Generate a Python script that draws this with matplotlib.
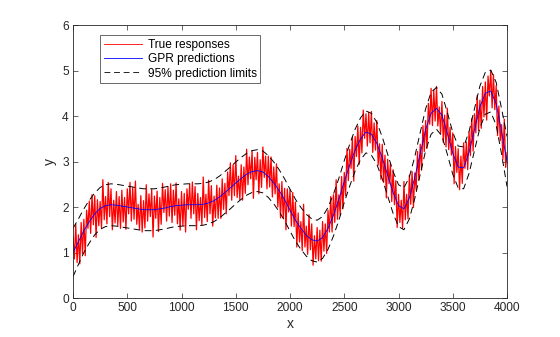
import numpy as np
import matplotlib
matplotlib.use("Agg")
import matplotlib.pyplot as plt

plt.rcParams['font.family'] = ['Liberation Sans', 'DejaVu Sans']

# GPR predicted mean, read every 50 units of x
x_pred = list(range(0, 4001, 50))
y_pred = [
    1.00, 1.24, 1.48, 1.68, 1.85, 1.97, 2.03, 2.05, 2.04, 2.02,
    2.00, 1.98, 1.96, 1.94, 1.94, 1.94, 1.96, 1.98, 2.01, 2.03,
    2.04, 2.05, 2.05, 2.05, 2.06, 2.09, 2.14, 2.22, 2.32, 2.42,
    2.53, 2.63, 2.72, 2.78, 2.80, 2.77, 2.67, 2.53, 2.36, 2.16,
    1.93, 1.71, 1.53, 1.38, 1.28, 1.25, 1.33, 1.53, 1.82, 2.17,
    2.56, 2.92, 3.25, 3.50, 3.65, 3.60, 3.40, 3.08, 2.70, 2.32,
    2.03, 1.96, 2.20, 2.65, 3.18, 3.70, 4.06, 4.17, 4.02, 3.62,
    3.18, 2.88, 2.86, 3.20, 3.70, 4.20, 4.50, 4.55, 4.27, 3.66,
    3.00,
]
# half width of the 95% prediction interval at the same x
ci_half = [
    0.53, 0.50, 0.48, 0.47, 0.46, 0.46, 0.46, 0.46, 0.46, 0.46,
    0.46, 0.46, 0.46, 0.46, 0.46, 0.46, 0.46, 0.46, 0.46, 0.46,
    0.46, 0.46, 0.46, 0.46, 0.46, 0.46, 0.46, 0.46, 0.46, 0.46,
    0.46, 0.46, 0.46, 0.46, 0.46, 0.46, 0.46, 0.46, 0.46, 0.46,
    0.46, 0.46, 0.46, 0.46, 0.46, 0.46, 0.46, 0.46, 0.46, 0.46,
    0.46, 0.46, 0.46, 0.46, 0.46, 0.46, 0.46, 0.46, 0.46, 0.46,
    0.46, 0.46, 0.46, 0.46, 0.46, 0.46, 0.46, 0.46, 0.46, 0.46,
    0.46, 0.46, 0.46, 0.46, 0.46, 0.46, 0.46, 0.46, 0.47, 0.50,
    0.55,
]

# noisy observed responses, read every 12.5 units of x
x_true = [i * 12.5 for i in range(321)]
y_true = [
    1.35, 0.86, 1.62, 0.78, 1.39, 0.75, 1.66, 0.97, 1.73, 0.93, 1.93, 1.53,
    2.13, 1.42, 2.27, 1.61, 2.25, 1.33, 2.16, 1.59, 2.12, 1.54, 2.60, 1.72,
    2.23, 1.63, 2.54, 1.79, 2.40, 1.50, 2.15, 1.65, 2.34, 1.59, 2.23, 1.53,
    2.37, 1.67, 2.21, 1.51, 2.40, 1.85, 2.54, 1.69, 2.43, 1.73, 2.57, 1.62,
    2.06, 1.51, 2.25, 1.45, 2.14, 1.54, 2.49, 1.69, 2.29, 1.79, 2.39, 1.34,
    2.24, 1.75, 2.35, 1.46, 2.21, 1.62, 2.52, 1.88, 2.38, 1.69, 2.45, 1.80,
    2.51, 1.66, 2.37, 1.82, 2.53, 1.63, 2.18, 1.49, 2.34, 1.59, 2.30, 1.45,
    2.40, 1.95, 2.50, 1.75, 2.55, 1.85, 2.45, 1.50, 2.30, 1.70, 2.21, 1.61,
    2.66, 1.77, 2.28, 1.68, 2.59, 1.85, 2.47, 1.58, 2.24, 1.76, 2.48, 1.75,
    2.42, 1.75, 2.62, 1.95, 2.52, 1.85, 2.77, 2.25, 2.97, 2.15, 2.93, 2.25,
    3.13, 2.21, 2.68, 2.16, 2.93, 2.15, 2.88, 2.30, 3.27, 2.49, 3.10, 2.62,
    3.23, 2.19, 3.09, 2.60, 3.20, 2.29, 3.04, 2.43, 3.32, 2.65, 3.12, 2.40,
    3.12, 2.44, 3.10, 2.22, 2.88, 2.29, 2.95, 2.00, 2.51, 1.76, 2.56, 1.76,
    2.41, 1.50, 2.40, 1.89, 2.38, 1.58, 2.32, 1.57, 2.11, 1.12, 1.87, 1.23,
    1.68, 1.04, 2.06, 1.12, 1.58, 0.96, 1.83, 1.06, 1.63, 0.72, 1.37, 0.86,
    1.55, 0.82, 1.49, 0.81, 1.68, 1.03, 1.63, 0.98, 1.93, 1.45, 2.23, 1.45,
    2.27, 1.66, 2.60, 1.73, 2.27, 1.82, 2.67, 1.96, 2.76, 2.25, 3.29, 2.58,
    3.27, 2.85, 3.54, 2.57, 3.55, 3.11, 3.78, 2.94, 3.75, 3.19, 4.13, 3.51,
    4.05, 3.34, 4.08, 3.41, 4.10, 3.20, 3.85, 3.25, 3.90, 2.92, 3.39, 2.61,
    3.38, 2.54, 3.14, 2.20, 3.05, 2.51, 2.96, 2.12, 2.82, 2.05, 2.58, 1.55,
    2.28, 1.66, 2.15, 1.53, 2.56, 1.72, 2.28, 1.74, 2.70, 2.06, 2.78, 1.99,
    2.75, 2.38, 3.22, 2.60, 3.38, 2.81, 3.79, 3.22, 3.90, 3.29, 4.28, 3.82,
    4.61, 3.79, 4.57, 3.89, 4.65, 3.78, 4.20, 3.61, 4.32, 3.42, 4.02, 3.32,
    4.17, 3.26, 3.75, 3.14, 3.63, 2.51, 3.33, 2.76, 3.28, 2.38, 3.12, 2.52,
    3.41, 2.85, 3.43, 2.82, 3.65, 3.13, 3.95, 3.23, 4.05, 3.63, 4.45, 3.68,
    4.35, 3.73, 4.65, 3.98, 4.75, 3.91, 4.88, 4.44, 5.00, 4.18, 4.91, 4.14,
    4.67, 3.57, 4.22, 3.46, 3.81, 3.05, 3.93, 2.87, 3.20,
]

x_ticks = [0, 500, 1000, 1500, 2000, 2500, 3000, 3500, 4000]
y_ticks = [0, 1, 2, 3, 4, 5, 6]

ink = '#262626'

fig = plt.figure(figsize=(5.6, 3.37), dpi=100)
ax = fig.add_axes([0.1304, 0.1157, 0.775, 0.81])

y_pred_arr = np.array(y_pred)
ci_arr = np.array(ci_half)

ax.plot(x_true, y_true, color='red', lw=0.9, label='True responses')
ax.plot(x_pred, y_pred_arr, color='blue', lw=0.6, label='GPR predictions')
ax.plot(x_pred, y_pred_arr + ci_arr, color='black', lw=0.7, dashes=(7, 4.5),
        label='95% prediction limits')
ax.plot(x_pred, y_pred_arr - ci_arr, color='black', lw=0.7, dashes=(7, 4.5))

ax.set_xlim(0, 4000)
ax.set_ylim(0, 6)
ax.set_xticks(x_ticks)
ax.set_yticks(y_ticks)
ax.tick_params(direction='in', length=3.5, width=0.5, colors=ink,
               labelsize=8.6, top=True, right=True, pad=3)
for s in ax.spines.values():
    s.set_color(ink)
    s.set_linewidth(0.6)

ax.set_xlabel('x', fontsize=10, color=ink, labelpad=2)
ax.set_ylabel('y', fontsize=10, color=ink, labelpad=4)

leg = ax.legend(loc='upper left', bbox_to_anchor=(0.062, 0.963), fontsize=8.6,
                frameon=True, fancybox=False, handlelength=3.2,
                handletextpad=0.5, labelspacing=0.2, borderpad=0.3,
                borderaxespad=0)
leg.get_frame().set_edgecolor(ink)
leg.get_frame().set_linewidth(0.6)
# thin handles in the legend, like the reference
for h in leg.get_lines():
    h.set_linewidth(0.6)

fig.savefig('out.png', dpi=100)
